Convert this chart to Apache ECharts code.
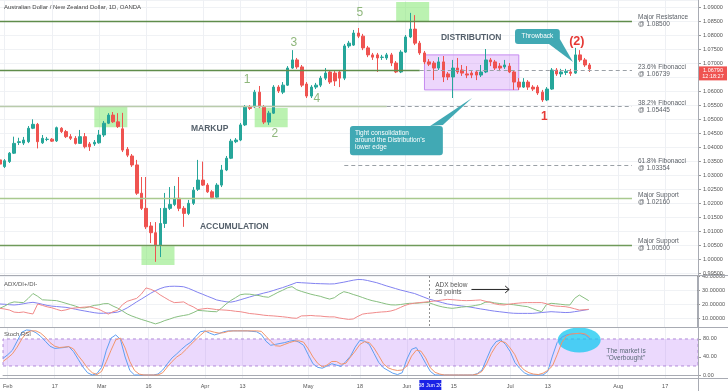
<!DOCTYPE html>
<html><head><meta charset="utf-8">
<script src="https://cdn.jsdelivr.net/npm/echarts@6/dist/echarts.min.js"></script>
<style>html,body{margin:0;padding:0;background:#fff}#c{width:728px;height:391px}</style>
</head><body><div id="c"></div>
<script>
// ---------- DATA ----------
const startDate = '2020-01-31', endDate = '2020-08-26';
function tradingDays(a, b) {
  const out = []; const d = new Date(a + 'T00:00:00Z'); const e = new Date(b + 'T00:00:00Z');
  while (d <= e) { const w = d.getUTCDay(); if (w !== 0 && w !== 6) out.push(d.toISOString().slice(0, 10)); d.setUTCDate(d.getUTCDate() + 1); }
  return out;
}
const dates = tradingDays(startDate, endDate);

const opens = [1.0354,1.0330,1.0348,1.0378,1.0416,1.0414,1.0419,1.0467,1.0481,1.0415,
1.0427,1.0428,1.0422,1.0467,1.0455,1.0437,1.0431,1.0413,1.0437,1.0411,
1.0411,1.0415,1.0443,1.0485,1.0514,1.0490,1.0465,1.0392,1.0368,1.0336,
1.0235,1.0181,1.0118,1.0094,1.0050,1.0127,1.0181,1.0195,1.0217,1.0181,
1.0163,1.0199,1.0249,1.0282,1.0264,1.0240,1.0221,1.0264,1.0318,1.0360,
1.0419,1.0425,1.0479,1.0544,1.0543,1.0596,1.0543,1.0489,1.0521,1.0614,
1.0596,1.0621,1.0682,1.0711,1.0686,1.0625,1.0582,1.0614,1.0621,1.0646,
1.0668,1.0664,1.0668,1.0646,1.0761,1.0764,1.0807,1.0796,1.0754,1.0729,
1.0729,1.0720,1.0718,1.0729,1.0700,1.0668,1.0739,1.0793,1.0821,1.0771,
1.0736,1.0704,1.0700,1.0682,1.0704,1.0661,1.0650,1.0682,1.0675,1.0661,
1.0664,1.0668,1.0657,1.0668,1.0711,1.0704,1.0689,1.0686,1.0689,1.0668,
1.0632,1.0614,1.0632,1.0614,1.0614,1.0596,1.0568,1.0607,1.0675,1.0661,
1.0666,1.0668,1.0664,1.0729,1.0711,1.0693];
const closes = [1.0339,1.0351,1.0378,1.0413,1.0419,1.0425,1.0467,1.0481,1.0419,1.0431,
1.0428,1.0421,1.0469,1.0455,1.0437,1.0431,1.0413,1.0437,1.0401,1.0401,
1.0417,1.0443,1.0485,1.0514,1.0490,1.0473,1.0389,1.0371,1.0336,1.0235,
1.0181,1.0115,1.0094,1.0050,1.0127,1.0181,1.0195,1.0217,1.0181,1.0163,
1.0199,1.0246,1.0282,1.0264,1.0240,1.0220,1.0264,1.0318,1.0360,1.0421,
1.0425,1.0479,1.0543,1.0538,1.0596,1.0543,1.0489,1.0521,1.0614,1.0600,
1.0621,1.0682,1.0711,1.0686,1.0621,1.0582,1.0614,1.0621,1.0646,1.0664,
1.0632,1.0636,1.0646,1.0761,1.0771,1.0807,1.0796,1.0754,1.0729,1.0721,
1.0718,1.0721,1.0729,1.0700,1.0668,1.0739,1.0793,1.0821,1.0771,1.0736,
1.0704,1.0696,1.0682,1.0704,1.0650,1.0650,1.0682,1.0668,1.0664,1.0657,
1.0657,1.0657,1.0668,1.0711,1.0704,1.0682,1.0682,1.0693,1.0668,1.0632,
1.0614,1.0632,1.0614,1.0607,1.0593,1.0568,1.0607,1.0675,1.0661,1.0668,
1.0670,1.0663,1.0729,1.0711,1.0693,1.0679];
const lows = [1.0332,1.0325,1.0343,1.0375,1.0407,1.0407,1.0414,1.0464,1.0395,1.0411,
1.0421,1.0418,1.0418,1.0450,1.0432,1.0425,1.0409,1.0411,1.0395,1.0386,
1.0404,1.0412,1.0436,1.0482,1.0486,1.0468,1.0382,1.0364,1.0329,1.0229,
1.0175,1.0107,1.0057,0.9990,1.0007,1.0111,1.0175,1.0189,1.0171,1.0115,
1.0157,1.0193,1.0243,1.0261,1.0236,1.0214,1.0214,1.0257,1.0314,1.0357,
1.0414,1.0421,1.0475,1.0532,1.0539,1.0539,1.0482,1.0479,1.0518,1.0593,
1.0589,1.0618,1.0679,1.0679,1.0614,1.0575,1.0575,1.0607,1.0614,1.0639,
1.0625,1.0618,1.0614,1.0639,1.0754,1.0761,1.0789,1.0746,1.0721,1.0711,
1.0668,1.0711,1.0711,1.0689,1.0664,1.0664,1.0736,1.0789,1.0764,1.0729,
1.0696,1.0689,1.0639,1.0675,1.0632,1.0639,1.0575,1.0661,1.0654,1.0646,
1.0646,1.0639,1.0650,1.0664,1.0689,1.0675,1.0671,1.0679,1.0664,1.0604,
1.0604,1.0611,1.0604,1.0600,1.0586,1.0561,1.0564,1.0604,1.0654,1.0650,
1.0657,1.0654,1.0661,1.0704,1.0686,1.0668];
const highs = [1.0361,1.0357,1.0382,1.0437,1.0433,1.0436,1.0475,1.0499,1.0486,1.0443,
1.0436,1.0432,1.0473,1.0471,1.0461,1.0446,1.0439,1.0461,1.0450,1.0418,
1.0425,1.0461,1.0493,1.0521,1.0525,1.0521,1.0522,1.0400,1.0375,1.0354,
1.0293,1.0293,1.0132,1.0132,1.0182,1.0236,1.0257,1.0261,1.0293,1.0189,
1.0211,1.0257,1.0354,1.0348,1.0271,1.0246,1.0271,1.0336,1.0368,1.0429,
1.0432,1.0486,1.0550,1.0550,1.0604,1.0618,1.0550,1.0529,1.0621,1.0621,
1.0632,1.0689,1.0746,1.0718,1.0693,1.0632,1.0621,1.0629,1.0654,1.0682,
1.0675,1.0675,1.0675,1.0768,1.0779,1.0818,1.0825,1.0804,1.0761,1.0736,
1.0736,1.0729,1.0736,1.0736,1.0707,1.0746,1.0800,1.0879,1.0871,1.0779,
1.0743,1.0714,1.0707,1.0721,1.0725,1.0668,1.0711,1.0718,1.0693,1.0689,
1.0671,1.0675,1.0693,1.0750,1.0718,1.0711,1.0700,1.0711,1.0700,1.0675,
1.0646,1.0646,1.0639,1.0621,1.0621,1.0604,1.0614,1.0682,1.0682,1.0679,
1.0679,1.0679,1.0754,1.0746,1.0718,1.0700];

const adx = [20.0,19.8,19.5,19.3,19.6,20.2,20.8,21.2,20.6,19.8,
19.0,18.5,18.2,17.9,17.6,17.0,16.3,15.6,15.0,14.4,
13.8,13.4,13.4,13.6,13.8,14.2,15.5,17.2,19.3,21.5,
23.5,25.6,27.7,29.5,31.0,32.1,32.6,32.7,32.6,32.3,
31.2,29.8,28.3,27.0,25.6,24.3,22.9,22.2,21.6,21.3,
22.0,23.0,24.0,25.0,26.0,26.9,27.8,28.6,29.6,30.7,
31.7,32.9,34.1,35.4,35.2,35.0,34.8,34.6,34.5,34.4,
34.3,34.4,35.0,35.6,36.3,37.0,37.5,37.4,36.8,36.0,
35.2,34.1,33.0,32.0,31.0,30.0,29.2,28.3,27.5,26.2,
24.9,23.6,22.7,21.8,20.9,20.0,19.5,19.0,18.6,18.2,
17.7,17.1,16.5,16.0,15.4,14.9,14.5,14.1,13.7,13.4,
13.3,13.3,13.3,13.3,13.6,13.9,14.2,14.5,14.3,14.1,
13.9,14.0,14.5,15.0,15.6,16.1];
const diPlus = [17.0,18.5,20.5,21.5,21.2,21.0,24.0,27.5,25.5,23.0,
22.8,22.6,22.4,21.5,20.5,19.5,18.5,17.3,17.2,18.0,
19.0,19.4,20.2,20.3,18.5,17.0,15.0,12.9,11.4,10.2,
9.0,8.0,6.9,5.8,6.8,8.2,9.2,10.4,11.2,11.8,
12.4,13.8,15.4,15.2,14.9,14.6,14.5,17.0,20.0,22.5,
24.5,26.6,27.1,27.0,26.5,26.0,25.2,24.8,26.5,28.3,
29.8,31.5,32.4,30.2,29.0,28.0,27.0,26.2,25.5,24.4,
23.5,24.5,27.0,28.8,28.0,26.8,25.8,24.6,23.4,22.4,
21.7,20.9,20.0,19.4,19.3,19.6,20.1,20.5,20.5,20.7,
21.0,21.0,19.8,18.7,17.9,17.3,16.9,17.3,17.8,18.1,
18.4,19.0,19.6,21.2,21.5,20.8,20.4,20.0,19.8,19.5,
19.0,18.5,18.1,16.8,15.5,14.5,19.5,20.5,20.2,19.8,
19.4,19.3,24.0,26.4,24.4,22.4];
const diMinus = [16.9,16.4,15.7,14.2,13.9,14.3,13.5,12.9,20.0,19.0,
18.0,17.3,16.2,15.2,15.8,16.8,17.2,17.5,17.8,18.0,
17.2,16.2,14.5,12.8,14.5,15.5,19.5,21.9,23.0,24.0,
27.0,31.5,30.5,29.0,26.5,24.5,22.5,21.0,21.2,21.5,
19.5,18.0,16.0,16.5,16.9,16.5,16.0,15.8,15.6,15.3,
14.8,14.5,13.9,13.2,12.9,12.5,12.0,11.7,11.5,11.2,
10.9,10.5,10.0,9.8,11.5,11.6,11.8,11.5,11.4,11.0,
10.8,10.8,10.0,9.5,9.0,9.3,11.2,12.8,13.3,13.6,
14.0,14.3,14.5,15.0,16.0,17.5,19.0,20.0,20.6,21.0,
21.3,21.7,22.0,22.4,22.9,23.3,23.1,22.8,22.5,22.4,
22.5,22.7,22.9,22.0,21.2,20.2,19.5,19.3,19.8,20.3,
20.6,20.9,21.0,21.0,21.0,21.0,20.2,19.0,18.5,18.3,
18.1,17.5,16.6,15.7,15.9,16.2];
const stochK = [37,45,55,75,95,100,99,94,86,75,
64,59,60,61,63,52,35,18,5,0,
3,17,55,82,89,79,40,10,0,0,
0,0,0,2,11,25,38,47,57,66,
73,85,96,98,93,89,92,96,98,98,
98,98,98,97,96,90,75,66,68,70,
72,75,77,73,66,45,25,17,15,20,
25,22,19,30,42,62,77,75,68,48,
28,16,10,4,1,5,35,57,61,45,
26,8,0,0,0,0,0,0,0,0,
0,3,11,36,60,74,78,68,52,28,
15,5,0,0,0,0,8,42,72,84,
89,91,92,92,89,80];
const stochD = [30,38,47,62,80,94,98,98,93,84,
72,64,61,62,63,58,43,30,15,5,
1,8,30,55,78,82,60,30,10,2,
0,0,0,0,5,18,30,40,47,57,
68,78,88,97,98,95,93,94,97,98,
98,98,98,98,98,97,86,75,65,64,
68,72,75,76,73,58,40,26,18,22,
30,30,24,26,40,53,68,74,72,60,
43,25,16,12,10,11,20,42,55,53,
38,16,6,2,0,0,0,0,0,0,
0,2,8,25,48,65,75,72,60,45,
22,11,5,2,1,4,10,20,45,72,
87,91,92,93,91,84];

const tickDates = ['2020-02-03','2020-02-17','2020-03-02','2020-03-16','2020-04-01','2020-04-13','2020-05-01','2020-05-18','2020-06-01','2020-06-15','2020-07-01','2020-07-13','2020-08-03','2020-08-17'];
const tickLabels = ['Feb','17','Mar','16','Apr','13','May','18','Jun','15','Jul','13','Aug','17'];

const levelValues = [1.08500, 1.06739, 1.05445, 1.03354, 1.02160, 1.00500];
const levelNames = ['Major Resistance', '23.6% Fibonacci', '38.2% Fibonacci', '61.8% Fibonacci', 'Major Support', 'Major Support'];
const lastPrice = 1.06790;
const countdown = '12:18:27';
const crossDate = '2020-06-08';
const crossLabel = '08 Jun 20';
const stochLabels = [0, 40, 80];

// ---------- CHART ----------
const FF = '"Liberation Sans", Arial, sans-serif';
const N = dates.length;
const tickIdx = new Map(tickDates.map((d, k) => [dates.indexOf(d), tickLabels[k]]));
const pad = a => dates.map((d, i) => i < a.length ? a[i] : '-');
const candles = dates.map((d, i) => i < opens.length ? [opens[i], closes[i], lows[i], highs[i]] : '-');
const idx = d => dates.indexOf(d);
const lastI = N - 1;
const lineEnd = 134;

const DKG = '#5f8d4b', LTG = '#a9c98f', GRY = '#9aa0a6';
function lvlLabel(k) {
  return { show: true, position: 'end', distance: 6, color: '#5a5f66', fontSize: 6.5, lineHeight: 7, fontFamily: FF,
    formatter: levelNames[k] + '\n@ ' + levelValues[k].toFixed(5) };
}
const noLabel = { show: false };
const levelLines = [
  [{ coord: [0, levelValues[0]], lineStyle: { color: DKG, width: 1.3, type: 'solid' }, label: lvlLabel(0) }, { coord: [lineEnd, levelValues[0]] }],
  [{ coord: [0, levelValues[1]], lineStyle: { color: DKG, width: 1.3, type: 'solid' }, label: noLabel }, { coord: [89, levelValues[1]] }],
  [{ coord: [89, levelValues[1]], lineStyle: { color: GRY, width: 1, type: [4, 3] }, label: lvlLabel(1) }, { coord: [lineEnd, levelValues[1]] }],
  [{ coord: [0, levelValues[2]], lineStyle: { color: '#b9cbab', width: 1.3, type: 'solid' }, label: noLabel }, { coord: [82, levelValues[2]] }],
  [{ coord: [82, levelValues[2]], lineStyle: { color: GRY, width: 1, type: [4, 3] }, label: lvlLabel(2) }, { coord: [lineEnd, levelValues[2]] }],
  [{ coord: [73, levelValues[3]], lineStyle: { color: GRY, width: 1, type: [4, 3] }, label: lvlLabel(3) }, { coord: [lineEnd, levelValues[3]] }],
  [{ coord: [0, levelValues[4]], lineStyle: { color: LTG, width: 1.3, type: 'solid' }, label: lvlLabel(4) }, { coord: [lineEnd, levelValues[4]] }],
  [{ coord: [0, levelValues[5]], lineStyle: { color: '#6f9a5a', width: 1.3, type: 'solid' }, label: lvlLabel(5) }, { coord: [lineEnd, levelValues[5]] }]
];

const greenBox = { color: 'rgba(120,230,100,0.5)' };
const greenBoxes = [
  [{ coord: [20, 1.0543], itemStyle: greenBox }, { coord: [27, 1.0471] }],
  [{ coord: [30, 1.0046], itemStyle: greenBox }, { coord: [37, 0.9979] }],
  [{ coord: [54, 1.0539], itemStyle: greenBox }, { coord: [61, 1.0471] }],
  [{ coord: [84, 1.0918], itemStyle: greenBox }, { coord: [91, 1.0846] }]
];
const purpleBox = [[{ coord: [90, 1.0729], itemStyle: { color: 'rgba(200,130,245,0.33)', borderColor: '#c58af0', borderWidth: 1 } }, { coord: [110, 1.0604] }]];

const grids = [
  { left: 0, right: 30, top: 0, height: 275 },
  { left: 0, right: 30, top: 276, height: 51 },
  { left: 0, right: 30, top: 328, height: 50 }
];
const xAxes = [0, 1, 2].map(g => ({
  type: 'category', data: dates, gridIndex: g, boundaryGap: false,
  axisLine: { show: g === 2, lineStyle: { color: '#a8abb3' } },
  axisTick: { show: false },
  axisLabel: { show: g === 2, interval: (i) => tickIdx.has(i), formatter: (v, i) => tickIdx.get(idx(v)) || '', fontSize: 5.5, color: '#555', fontFamily: FF, margin: 5 },
  splitLine: { show: true, interval: (i) => tickIdx.has(i), lineStyle: { color: '#eef0f4', width: 1 } }
}));
const yLbl = { fontSize: 5.5, color: '#555', fontFamily: FF, margin: 5 };
const yAxes = [
  { gridIndex: 0, type: 'value', position: 'right', min: 0.9943, max: 1.0925, splitNumber: 20,
    axisLine: { show: true, lineStyle: { color: '#a8abb3' } }, axisTick: { show: true, length: 3, lineStyle: { color: '#999' } },
    axisLabel: Object.assign({ formatter: v => v.toFixed(5), showMinLabel: false, showMaxLabel: false }, yLbl),
    splitLine: { show: true, lineStyle: { color: '#f0f2f5' } } },
  { gridIndex: 1, type: 'value', position: 'right', min: 3.57, max: 40, splitNumber: 4,
    axisLine: { show: true, lineStyle: { color: '#a8abb3' } }, axisTick: { show: true, length: 3, lineStyle: { color: '#999' } },
    axisLabel: Object.assign({ formatter: v => v.toFixed(5), showMinLabel: false, showMaxLabel: true }, yLbl),
    splitLine: { show: true, lineStyle: { color: '#f0f2f5' } } },
  { gridIndex: 2, type: 'value', position: 'right', min: -6.7, max: 104.4,
    axisLine: { show: true, lineStyle: { color: '#a8abb3' } },
    axisTick: { show: true, length: 3, customValues: stochLabels, lineStyle: { color: '#999' } },
    axisLabel: Object.assign({ formatter: v => v.toFixed(2), customValues: stochLabels }, yLbl),
    splitLine: { show: false } }
];

const chart = echarts.init(document.getElementById('c'));
chart.setOption({
  animation: false,
  backgroundColor: '#ffffff',
  grid: grids, xAxis: xAxes, yAxis: yAxes,
  series: [
    { type: 'line', xAxisIndex: 0, yAxisIndex: 0, data: pad([]), z: 1, silent: true,
      markArea: { silent: true, data: purpleBox } },
    { type: 'candlestick', xAxisIndex: 0, yAxisIndex: 0, data: candles, barWidth: 3, z: 3,
      itemStyle: { color: '#26a69a', color0: '#ef5350', borderColor: '#26a69a', borderColor0: '#ef5350', borderWidth: 1 },
      markLine: { silent: true, symbol: ['none', 'none'], data: levelLines, animation: false } },
    { type: 'line', xAxisIndex: 0, yAxisIndex: 0, data: pad([]), z: 5, silent: true,
      markArea: { silent: true, data: greenBoxes } },
    { type: 'line', xAxisIndex: 1, yAxisIndex: 1, data: pad(adx), showSymbol: false, lineStyle: { color: '#8282f0', width: 1 } },
    { type: 'line', xAxisIndex: 1, yAxisIndex: 1, data: pad(diPlus), showSymbol: false, lineStyle: { color: '#88bf80', width: 1 } },
    { type: 'line', xAxisIndex: 1, yAxisIndex: 1, data: pad(diMinus), showSymbol: false, lineStyle: { color: '#f08a8a', width: 1 } },
    { type: 'line', xAxisIndex: 2, yAxisIndex: 2, data: pad(stochK), showSymbol: false, lineStyle: { color: '#5e9ff2', width: 1 }, z: 3,
      markArea: { silent: true, data: [[{ yAxis: 20, itemStyle: { color: 'rgba(190,130,250,0.3)', borderColor: '#b08ad8', borderWidth: 1, borderType: [3, 3] } }, { yAxis: 80 }]] } },
    { type: 'line', xAxisIndex: 2, yAxisIndex: 2, data: pad(stochD), showSymbol: false, lineStyle: { color: '#f3956a', width: 1 }, z: 3 }
  ]
});

// ---------- ANNOTATIONS (positioned via data coordinates) ----------
function P(g, i, v) {
  const i0 = Math.floor(i), f = i - i0;
  const a = chart.convertToPixel({ xAxisIndex: g, yAxisIndex: g }, [i0, v]);
  const b = chart.convertToPixel({ xAxisIndex: g, yAxisIndex: g }, [i0 + 1, v]);
  return [a[0] + (b[0] - a[0]) * f, a[1]];
}
const G = [];
function T(x, y, s, st) {
  G.push({ type: 'text', x: x, y: y, z: 100, silent: true,
    style: Object.assign({ text: s, fill: '#555', fontSize: 7, fontFamily: FF, align: 'left', verticalAlign: 'middle', textAlign: 'left', textVerticalAlign: 'middle' }, st) });
}
const W = 728, AX = 698;
// chrome
T(4, 7, 'Australian Dollar / New Zealand Dollar, 1D, OANDA', { fontSize: 6, fill: '#444' });
T(4, 284, 'ADX/DI+/DI-', { fontSize: 6, fill: '#555' });
T(4, 334, 'Stoch RSI', { fontSize: 6, fill: '#555' });
[275.5, 327.5].forEach(y => G.push({ type: 'line', z: 90, silent: true, shape: { x1: 0, y1: y, x2: W, y2: y }, style: { stroke: '#a8abb3', lineWidth: 1.2 } }));
G.push({ type: 'line', z: 90, silent: true, shape: { x1: 0, y1: 378.5, x2: W, y2: 378.5 }, style: { stroke: '#a8abb3', lineWidth: 1.2 } });
G.push({ type: 'line', z: 90, silent: true, shape: { x1: AX + 0.5, y1: 0, x2: AX + 0.5, y2: 391 }, style: { stroke: '#a8abb3', lineWidth: 1 } });

// phase labels
const phase = { fontSize: 8.5, fill: '#56616c', fontWeight: 'bold' };
let p;
p = P(0, 40.5, 1.0464); T(p[0], p[1], 'MARKUP', phase);
p = P(0, 42.4, 1.0114); T(p[0], p[1], 'ACCUMULATION', phase);
p = P(0, 93.5, 1.0789); T(p[0], p[1], 'DISTRIBUTION', phase);
// wave counts
const wave = { fontSize: 12, fill: '#8fb77c', align: 'center', textAlign: 'center' };
[[52.4, 1.0639, '1'], [58.3, 1.0446, '2'], [62.3, 1.0771, '3'], [67.2, 1.0571, '4'], [76.3, 1.0879, '5']].forEach(w => {
  const q = P(0, w[0], w[1]); T(q[0], q[1], w[2], wave);
});
const redW = { fontSize: 12, fill: '#e53935', fontWeight: 'bold', align: 'center', textAlign: 'center' };
p = P(0, 115.4, 1.0507); T(p[0], p[1], '1', redW);
p = P(0, 122.3, 1.0775); T(p[0], p[1], '(2)', Object.assign({}, redW, { fontSize: 12.5 }));

// callouts
const TEAL = '#41a9b4';
let a = P(0, 109.2, 1.0821), b = P(0, 118.7, 1.0768);
G.push({ type: 'rect', z: 95, silent: true, shape: { x: a[0], y: a[1], width: b[0] - a[0], height: b[1] - a[1], r: 3 }, style: { fill: TEAL } });
let t1 = P(0, 116.4, 1.0768), t2 = P(0, 118.7, 1.0786), tip = P(0, 121.5, 1.0704);
G.push({ type: 'polygon', z: 95, silent: true, shape: { points: [t1, t2, tip] }, style: { fill: TEAL } });
T((a[0] + b[0]) / 2, (a[1] + b[1]) / 2, 'Throwback', { fill: '#fff', fontSize: 6.5, align: 'center', textAlign: 'center' });

a = P(0, 74.2, 1.0475); b = P(0, 93.9, 1.0371);
G.push({ type: 'rect', z: 95, silent: true, shape: { x: a[0], y: a[1], width: b[0] - a[0], height: b[1] - a[1], r: 3 }, style: { fill: TEAL } });
t1 = P(0, 91.2, 1.0475); t2 = P(0, 93.9, 1.0479); tip = P(0, 100.1, 1.0575);
G.push({ type: 'polygon', z: 95, silent: true, shape: { points: [t1, t2, tip] }, style: { fill: TEAL } });
G.push({ type: 'text', z: 100, silent: true, x: a[0] + 5, y: a[1] + 4,
  style: { text: 'Tight consolidation\naround the Distribution\u2019s\nlower edge', fill: '#fff', fontSize: 6.5, lineHeight: 6.8, fontFamily: FF, align: 'left', verticalAlign: 'top', textAlign: 'left', textVerticalAlign: 'top' } });

// ADX pane notes
const ci = idx(crossDate);
a = P(1, ci, 40); b = P(1, ci, 3.57);
G.push({ type: 'line', z: 90, silent: true, shape: { x1: Math.round(a[0]) + 0.5, y1: a[1], x2: Math.round(a[0]) + 0.5, y2: b[1] }, style: { stroke: '#777', lineWidth: 0.8, lineDash: [2, 2] } });
p = P(1, 92.4, 30.9);
G.push({ type: 'text', z: 100, silent: true, x: p[0], y: p[1],
  style: { text: 'ADX below\n25 points', fill: '#555', fontSize: 6.5, lineHeight: 6.8, fontFamily: FF, align: 'left', verticalAlign: 'middle', textAlign: 'left', textVerticalAlign: 'middle' } });
a = P(1, 100.1, 30.4); b = P(1, 108.1, 30.4);
G.push({ type: 'line', z: 90, silent: true, shape: { x1: a[0], y1: a[1], x2: b[0], y2: b[1] }, style: { stroke: '#222', lineWidth: 1 } });
G.push({ type: 'polyline', z: 90, silent: true, shape: { points: [[b[0] - 4, b[1] - 3.5], [b[0], b[1]], [b[0] - 4, b[1] + 3.5]] }, style: { stroke: '#222', lineWidth: 1, fill: null } });

// Stoch notes
p = P(2, 122.7, 77.8);
G.push({ type: 'ellipse', z: 2, silent: true, shape: { cx: p[0], cy: p[1], rx: 21.5, ry: 12.5 }, style: { fill: 'rgba(20,200,240,0.75)' } });
p = P(2, 128.5, 45.6);
G.push({ type: 'text', z: 100, silent: true, x: p[0], y: p[1],
  style: { text: 'The market is\n"Overbought"', fill: '#5c6b7a', fontSize: 6.5, lineHeight: 7, fontFamily: FF, align: 'left', verticalAlign: 'middle', textAlign: 'left', textVerticalAlign: 'middle' } });

// last price tag
p = P(0, 0, lastPrice);
G.push({ type: 'rect', z: 100, silent: true, shape: { x: AX + 1, y: p[1] - 2.5, width: 28, height: 14 }, style: { fill: '#ef5350' } });
T(AX + 15, p[1] + 1.2, lastPrice.toFixed(5), { fill: '#fff', fontSize: 5.5, align: 'center', textAlign: 'center' });
T(AX + 15, p[1] + 7.8, countdown, { fill: '#fff', fontSize: 5.5, align: 'center', textAlign: 'center' });

// crosshair date label on axis
p = P(2, ci, -6.7);
G.push({ type: 'rect', z: 100, silent: true, shape: { x: p[0] - 11, y: 380, width: 22, height: 10 }, style: { fill: '#1a22e6' } });
T(p[0], 385, crossLabel, { fill: '#fff', fontSize: 5.5, align: 'center', textAlign: 'center' });

chart.setOption({ graphic: { elements: G } });
</script>
</body></html>
